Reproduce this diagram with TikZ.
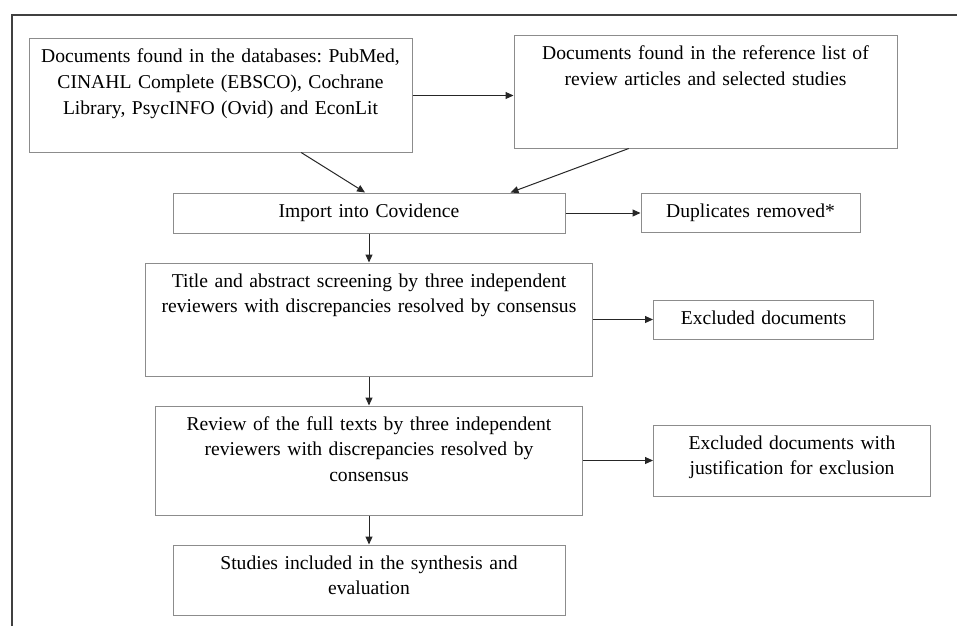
\documentclass[tikz,border=0pt]{standalone}
\usepackage{fontspec}
\setmainfont{Liberation Serif}
\frenchspacing
\usetikzlibrary{positioning,calc,arrows.meta}

\begin{document}
\begin{tikzpicture}[node distance=14.5pt, x=0.5pt, y=-0.5pt]
    % Styles
    \tikzstyle{docbox} = [rectangle, draw=gray!90, line width=0.5pt, inner sep=0pt, align=center, text height=12pt, font=\fontsize{9.8}{12.8}\selectfont]
    \tikzstyle{arrow} = [draw=black!85, line width=0.5pt, -{Triangle[length=4pt,width=3.5pt]}]
    \tikzstyle{frame} = [draw=black!75, line width=1pt]

    \useasboundingbox (0,0) rectangle (957,626);
    \draw [frame] (12,626) |- (957,15);

    % Boxes
    \node (db) [docbox, text width=191.5pt, text depth=44.5pt] at (220.5,95.5) {Documents found in the databases: PubMed,\\ CINAHL Complete (EBSCO), Cochrane\\ Library, PsycINFO (Ovid) and EconLit};
    \node (ref) [docbox, text width=191.5pt, text depth=44pt, right=50.5pt of db, yshift=1.75pt] {Documents found in the reference list of\\ review articles and selected studies};
    \node (import) [docbox, text width=196pt, text depth=8pt] at (369,213) {Import into Covidence};
    \node (dup) [docbox, text width=109.5pt, text depth=7.5pt, right=37.5pt of import] {Duplicates removed*};
    \node (screen) [docbox, text width=223.5pt, text depth=44.5pt, below=of import] {Title and abstract screening by three independent\\ reviewers with discrepancies resolved by consensus};
    \node (excl) [docbox, text width=110pt, text depth=7.5pt, right=30pt of screen] {Excluded documents};
    \node (review) [docbox, text width=213.5pt, text depth=42.5pt, below=of screen] {Review of the full texts by three independent\\ reviewers with discrepancies resolved by\\ consensus};
    \node (excljust) [docbox, text width=138.5pt, text depth=23.5pt, right=35pt of review] {Excluded documents with\\ justification for exclusion};
    \node (studies) [docbox, text width=196pt, text depth=23pt, below=of review] {Studies included in the synthesis and\\ evaluation};

    % Arrows
    \draw [arrow] (db.east) -- (db.east -| ref.west);
    \draw [arrow] ($(db.south west)!0.71!(db.south east)$) -- ($(import.north west)!0.49!(import.north east)$);
    \draw [arrow] ($(ref.south west)!0.3!(ref.south east)$) -- ($(import.north west)!0.86!(import.north east)$);
    \draw [arrow] (import) -- (dup);
    \draw [arrow] (import) -- (screen);
    \draw [arrow] (screen) -- (excl);
    \draw [arrow] (screen) -- (review);
    \draw [arrow] (review) -- (excljust);
    \draw [arrow] (review) -- (studies);

\end{tikzpicture}
\end{document}
